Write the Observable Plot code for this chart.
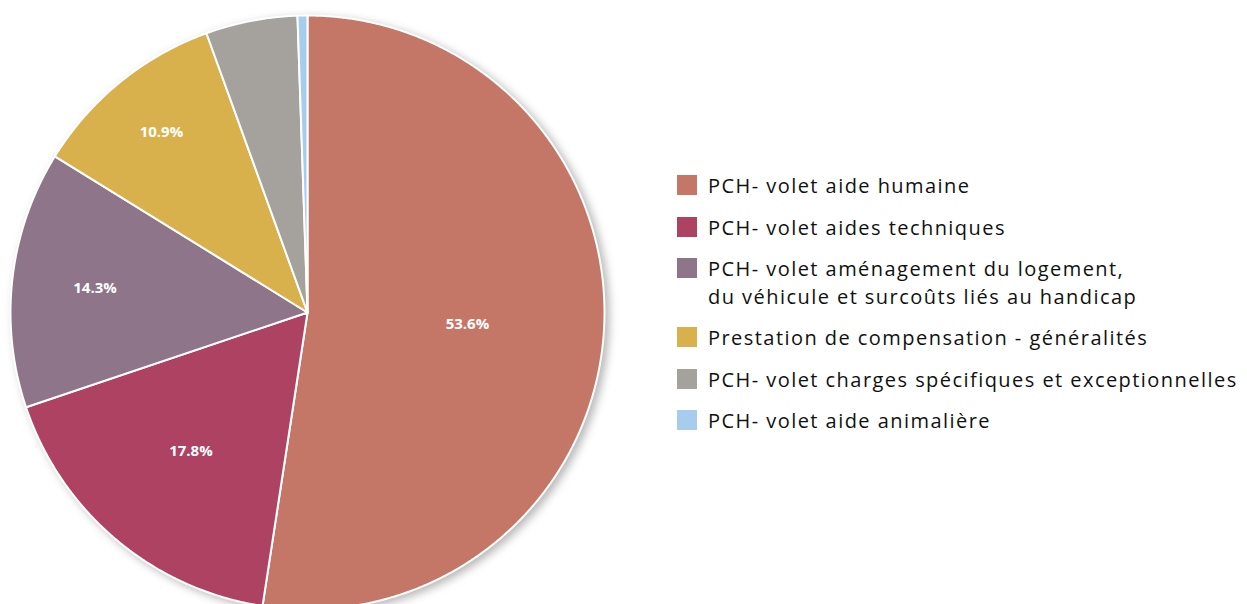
<!DOCTYPE html>
<html>
<head>
<meta charset="utf-8">
<script src="https://cdn.jsdelivr.net/npm/d3@7"></script>
<script src="https://cdn.jsdelivr.net/npm/@observablehq/plot@0.6"></script>
<style>
  html, body { margin: 0; padding: 0; background: #fff; }
  #wrap { position: relative; width: 1247px; height: 604px; overflow: hidden; font-family: "Open Sans", "Noto Sans", sans-serif; }
  #chart svg .pie { filter: drop-shadow(4px 3px 4px rgba(0,0,0,0.28)); }
  #legend { position: absolute; left: 677px; top: 172px; }
  .item { display: flex; align-items: flex-start; margin-bottom: 14px; }
  .sw { width: 20px; height: 20px; flex: none; margin-top: 3px; margin-right: 11px; }
  .lab { font-size: 20px; line-height: 27.5px; color: #111; letter-spacing: 1.45px; white-space: nowrap; }
</style>
</head>
<body>
<div id="wrap">
  <div id="chart"></div>
  <div id="legend"></div>
</div>
<script>
const categories = [
  "PCH- volet aide humaine",
  "PCH- volet aides techniques",
  "PCH- volet aménagement du logement,\ndu véhicule et surcoûts liés au handicap",
  "Prestation de compensation - généralités",
  "PCH- volet charges spécifiques et exceptionnelles",
  "PCH- volet aide animalière"
];
const values = [53.6, 17.8, 14.3, 10.9, 5.1, 0.55];
const labels = ["53.6%", "17.8%", "14.3%", "10.9%", "", ""];
const colors = ["#C47766", "#AD4263", "#8E7589", "#D9B14C", "#A5A29D", "#A7CDEE"];

// label distance from centre (fraction of radius), layout only
const labelRadius = [0.54, 0.61, 0.72, 0.78, 0.8, 0.8];

const data = categories.map((c, i) => ({category: c, value: values[i], label: labels[i]}));
const arcs = d3.pie().sort(null).value(d => d.value)(data);

const poly = [];
arcs.forEach((a, i) => {
  poly.push({category: a.data.category, x: 0, y: 0});
  const n = Math.max(4, Math.ceil((a.endAngle - a.startAngle) / 0.005));
  for (let k = 0; k <= n; k++) {
    const t = a.startAngle + (a.endAngle - a.startAngle) * k / n;
    poly.push({category: a.data.category, x: Math.sin(t), y: Math.cos(t)});
  }
  poly.push({category: a.data.category, x: 0, y: 0});
});
const labelPts = arcs.map((a, i) => {
  const m = (a.startAngle + a.endAngle) / 2;
  return {label: a.data.label, x: labelRadius[i] * Math.sin(m), y: labelRadius[i] * Math.cos(m)};
});

const R = 297, cx = 307, cy = 312;
const chart = Plot.plot({
  width: 1247,
  height: 604,
  margin: 0,
  x: {domain: [-1, 1], range: [cx - R, cx + R], axis: null},
  y: {domain: [-1, 1], range: [cy + R, cy - R], axis: null},
  color: {domain: categories, range: colors},
  marks: [
    Plot.line(poly, {x: "x", y: "y", z: "category", fill: "category", stroke: "white", strokeWidth: 2, strokeLinejoin: "round", curve: "linear", className: "pie"}),
    Plot.text(labelPts, {x: "x", y: "y", text: "label", fill: "white", fontSize: 15, fontWeight: "bold", fontFamily: "Open Sans, sans-serif"})
  ]
});
document.getElementById("chart").appendChild(chart);

const leg = document.getElementById("legend");
categories.forEach((c, i) => {
  const it = document.createElement("div");
  it.className = "item";
  const sw = document.createElement("div");
  sw.className = "sw";
  sw.style.background = colors[i];
  const lab = document.createElement("div");
  lab.className = "lab";
  lab.innerHTML = c.split("\n").join("<br>");
  it.appendChild(sw); it.appendChild(lab);
  leg.appendChild(it);
});
</script>
</body>
</html>
